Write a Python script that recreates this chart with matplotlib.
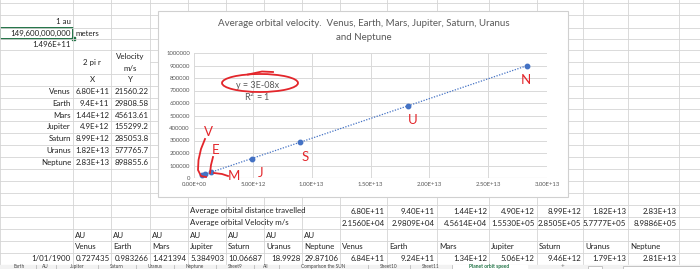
import numpy as np
import matplotlib.pyplot as plt
from matplotlib.patches import Rectangle, Ellipse
from matplotlib.ticker import FuncFormatter

plt.rcParams['font.family'] = ['Lato', 'DejaVu Sans']

# chart data (2 pi r vs orbital velocity)
planets = ['Venus', 'Earth', 'Mars', 'Jupiter', 'Saturn', 'Uranus', 'Neptune']
orbit_x = [6.80e11, 9.4e11, 1.44e12, 4.9e12, 8.99e12, 1.82e13, 2.83e13]
velocity_y = [21560.22, 29808.58, 45613.61, 155299.2, 285053.8, 577765.7, 898855.6]

# cell texts as shown in the sheet
x_cells = ['6.80E+11', '9.4E+11', '1.44E+12', '4.9E+12', '8.99E+12', '1.82E+13', '2.83E+13']
y_cells = ['21560.22', '29808.58', '45613.61', '155299.2', '285053.8', '577765.7', '898855.6']
dist_row = ['6.80E+11', '9.40E+11', '1.44E+12', '4.90E+12', '8.99E+12', '1.82E+13', '2.83E+13']
vel_row = ['2.1560E+04', '2.9809E+04', '4.5614E+04', '1.5530E+05', '2.8505E+05', '5.7777E+05', '8.9886E+05']
au_1900 = ['0.727435', '0.983266', '1.421394', '5.384903', '10.06687', '18.9928', '29.87106']
dist_1900 = ['6.84E+11', '9.24E+11', '1.34E+12', '5.06E+12', '9.46E+12', '1.79E+13', '2.81E+13']
tabs = ['Earth', 'AU', 'Jupiter', 'Saturn', 'Uranus', 'Neptune', 'Sheet9', 'All',
        'Comparison the SUN', 'Sheet10', 'Sheet11']

# sheet layout in pixels
cols = [0, 73, 111, 150, 188, 226, 264, 302, 340, 387, 437, 489, 537, 583, 628, 679]
rows = [3, 15, 27.5, 38.7, 50, 74, 86, 97.7, 109.3, 121, 132.7, 144.5, 156.5,
        168.5, 180.5, 192.5, 204.5, 216.5, 228.5, 240.5, 252.5, 264.5]

fig = plt.figure(figsize=(7, 2.69), dpi=100)
bg = fig.add_axes([0, 0, 1, 1])
bg.set_xlim(0, 700)
bg.set_ylim(269, 0)
bg.axis('off')

gcol = '#D4D4D4'
for c in cols:
    bg.plot([c, c], [0, 264.5], color=gcol, lw=0.6)
for r in rows:
    bg.plot([0, 700], [r, r], color=gcol, lw=0.6)
bg.plot([150, 700], [62, 62], color=gcol, lw=0.6)

fs = 5.7
tc = '#222222'
# top left block
bg.text(71, 21.5, '1 au', ha='right', va='center', fontsize=fs, color=tc)
bg.text(71, 33, '149,600,000,000', ha='right', va='center', fontsize=fs, color=tc)
bg.text(75, 33, 'meters', ha='left', va='center', fontsize=fs, color=tc)
bg.text(71, 44.5, '1.496E+11', ha='right', va='center', fontsize=fs, color=tc)
bg.add_patch(Rectangle((0, 27.5), 73, 11.2, fill=False, edgecolor='#217346', lw=1.4))
bg.add_patch(Rectangle((71.5, 37.3), 3, 3, color='#217346'))
bg.text(92, 62.5, '2 pi r', ha='center', va='center', fontsize=fs, color=tc)
bg.text(130.5, 56.5, 'Velocity', ha='center', va='center', fontsize=fs, color=tc)
bg.text(130.5, 68.3, 'm/s', ha='center', va='center', fontsize=fs, color=tc)
bg.text(92, 80, 'X', ha='center', va='center', fontsize=fs, color=tc)
bg.text(130.5, 80, 'Y', ha='center', va='center', fontsize=fs, color=tc)
for i, p in enumerate(planets):
    yy = (rows[7 + i - 1] + rows[7 + i]) / 2
    bg.text(71, yy, p, ha='right', va='center', fontsize=fs, color=tc)
    bg.text(109.5, yy, x_cells[i], ha='right', va='center', fontsize=fs, color=tc)
    bg.text(148.5, yy, y_cells[i], ha='right', va='center', fontsize=fs, color=tc)

# lower block
bg.text(190, 211, 'Average orbital distance travelled', ha='left', va='center',
        fontsize=fs, color=tc)
bg.text(190, 223, 'Average orbital Velocity m/s', ha='left', va='center',
        fontsize=fs, color=tc)
right_cols = cols[9:] + [700]
for i in range(7):
    bg.text(right_cols[i] - 2, 211, dist_row[i], ha='right', va='center', fontsize=fs, color=tc)
    bg.text(right_cols[i] - 2, 223, vel_row[i], ha='right', va='center', fontsize=fs, color=tc)
    bg.text(cols[1 + i] + 2, 235, 'AU', ha='left', va='center', fontsize=fs, color=tc)
    bg.text(cols[1 + i] + 2, 246.5, planets[i], ha='left', va='center', fontsize=fs, color=tc)
    bg.text(cols[2 + i] - 1.5, 258.3, au_1900[i], ha='right', va='center', fontsize=fs, color=tc)
    bg.text(cols[8 + i] + 2, 246.5, planets[i], ha='left', va='center', fontsize=fs, color=tc)
    bg.text(right_cols[i] - 2, 258.3, dist_1900[i], ha='right', va='center', fontsize=fs, color=tc)
bg.text(71, 258.3, '1/01/1900', ha='right', va='center', fontsize=fs, color=tc)

# sheet tab bar
bg.add_patch(Rectangle((0, 264.5), 700, 5, color='#F2F2F2', zorder=3))
tab_x = 2
for t in tabs:
    w = 12 + 4.3 * len(t)
    bg.text(tab_x + w / 2, 266.8, t, ha='center', va='center', fontsize=3.4,
            color='#444444', zorder=4)
    tab_x += w
    bg.plot([tab_x, tab_x], [265, 269], color='#BBBBBB', lw=0.6, zorder=4)
bg.add_patch(Rectangle((tab_x, 264.5), 75, 5, color='white', zorder=3.5))
bg.text(tab_x + 37, 266.8, 'Planet orbit speed', ha='center', va='center', fontsize=3.6,
        color='#217346', fontweight='bold', zorder=4)
bg.text(tab_x + 110, 266.6, '+', ha='center', va='center', fontsize=4.5, color='#777777', zorder=4)
bg.add_patch(Rectangle((588, 265.5), 14, 4, facecolor='white', edgecolor='#BBBBBB', lw=0.6, zorder=4))
bg.add_patch(Rectangle((623, 265.5), 77, 4, facecolor='white', edgecolor='#BBBBBB', lw=0.6, zorder=4))

# chart box
bg.add_patch(Rectangle((158, 11), 410, 186, facecolor='white', edgecolor='#D0D0D0', lw=0.8, zorder=5))
bg.text(364, 24, 'Average orbital velocity.  Venus, Earth, Mars, Jupiter, Saturn, Uranus',
        ha='center', va='center', fontsize=7, color='#595959', zorder=6)
bg.text(364, 37.5, 'and Neptune', ha='center', va='center', fontsize=7, color='#595959', zorder=6)

ax = fig.add_axes([194 / 700, (269 - 178) / 269, 353 / 700, 125 / 269])
ax.set_facecolor('none')
ax.set_xlim(0, 3e13)
ax.set_ylim(0, 1e6)
ax.set_xticks(np.arange(0, 3.01e13, 5e12))
ax.set_yticks(np.arange(0, 1.01e6, 1e5))
ax.xaxis.set_major_formatter(FuncFormatter(lambda v, p: f'{v:.2E}'))
ax.yaxis.set_major_formatter(FuncFormatter(lambda v, p: f'{int(v)}'))
ax.tick_params(length=0, labelsize=4.3, labelcolor='#595959', pad=3)
ax.grid(True, color='#D9D9D9', lw=0.7)
for s in ax.spines.values():
    s.set_visible(False)
ax.axhline(0, color='#BFBFBF', lw=0.8)
ax.axvline(3e13, color='#D9D9D9', lw=0.7)

xs = np.array(orbit_x)
ys = np.array(velocity_y)
slope = np.sum(xs * ys) / np.sum(xs * xs)
tx = np.array([xs.min(), xs.max()])
ax.plot(tx, slope * tx, ls=(0, (1, 1.2)), color='#4472C4', lw=0.9)
ax.plot(xs, ys, 'o', color='#4472C4', ms=3.2)
ax.text(5.4e12, 744000, 'y = 3E-08x', ha='center', va='center', fontsize=6.5, color='#595959')
ax.text(5.4e12, 648000, 'R$^2$ = 1', ha='center', va='center', fontsize=6.5, color='#595959')

# red handwriting on top
ov = fig.add_axes([0, 0, 1, 1], facecolor='none')
ov.set_xlim(0, 700)
ov.set_ylim(269, 0)
ov.axis('off')
red = '#E3262B'
ov.add_patch(Ellipse((260, 83), 76, 18, fill=False, edgecolor=red, lw=1.3))
ov.plot([248, 262, 273], [74.5, 71.5, 72], color=red, lw=1.3)
ov.plot([205, 201, 198.5, 198, 201, 206], [139, 149, 160, 170, 176, 177], color=red, lw=1.3)
ov.plot([213, 211, 210], [157, 165, 173], color=red, lw=1.3)
ov.plot([214, 222, 228], [173, 174, 176], color=red, lw=1.3)
letters = ['V', 'E', 'M', 'J', 'S', 'U', 'N']
letter_px = [(208, 132), (216, 150), (234, 176.5), (261, 173), (305, 157), (413, 120), (526, 80)]
for s, (lx, ly) in zip(letters, letter_px):
    ov.text(lx, ly, s, ha='center', va='center', fontsize=9.5, color=red)

fig.savefig('out.png', dpi=100)
